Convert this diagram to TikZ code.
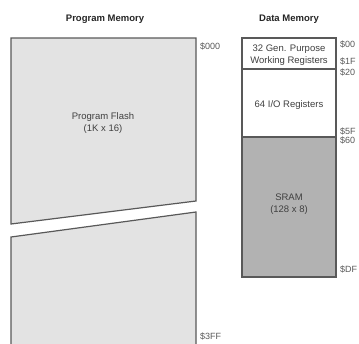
\documentclass[tikz,border=0pt]{standalone}
\usepackage{fontspec}
\setmainfont{Liberation Sans}
\usetikzlibrary{positioning}
\tikzset{
  title/.style ={font=\fontsize{9.5}{11}\selectfont\bfseries,text=black!85},
  lbl/.style   ={font=\fontsize{9.5}{12}\selectfont,align=center,inner sep=0pt,text=black!75},
  addr/.style  ={font=\fontsize{9}{10}\selectfont,anchor=west,inner sep=0pt,text=black!65},
  mem/.style   ={draw=black!65,line width=1.2pt},
  region/.style={mem,minimum width=94pt,inner sep=0pt,outer sep=0pt,anchor=north west},
}

\begin{document}
\begin{tikzpicture}[x=1pt,y=-1pt]
  \useasboundingbox (0,0) rectangle (359,343);

  % titles
  \node[title] (pmtitle) at (105,19) {Program Memory};
  \node[title] (dmtitle) at (289,19) {Data Memory};

  % program flash, drawn in two broken pieces
  \filldraw[mem,fill=black!11] (11,38) -- (196,38) -- (196,201) -- (11,224) -- cycle;
  \filldraw[mem,fill=black!11] (11,237) -- (196,212) -- (196,345) -- (11,345) -- cycle;
  \node[lbl] (flash) at (103,123) {Program Flash\\(1K x 16)};
  \node[addr] (a000) at (200,46) {\$000};
  \node[addr] (a3ff) at (200,336) {\$3FF};

  % data memory
  \node[region,minimum height=31pt,fill=white] (gpr) at (242,38) {};
  \node[region,minimum height=68pt,fill=white] (io) at (242,69) {};
  \node[region,minimum height=140pt,fill=black!30] (sram) at (242,137) {};
  \node[lbl] at ([yshift=-1.5pt]gpr.center) {32 Gen. Purpose\\Working Registers};
  \node[lbl] at ([yshift=-2pt]io.center) {64 I/O Registers};
  \node[lbl] at ([yshift=3pt]sram.center) {SRAM\\(128 x 8)};

  \node[addr] (a00) at (340,44) {\$00};
  \node[addr] (a1f) at (340,61) {\$1F};
  \node[addr] (a20) at (340,72) {\$20};
  \node[addr] (a5f) at (340,131) {\$5F};
  \node[addr] (a60) at (340,140) {\$60};
  \node[addr] (adf) at (340,269) {\$DF};
\end{tikzpicture}
\end{document}
